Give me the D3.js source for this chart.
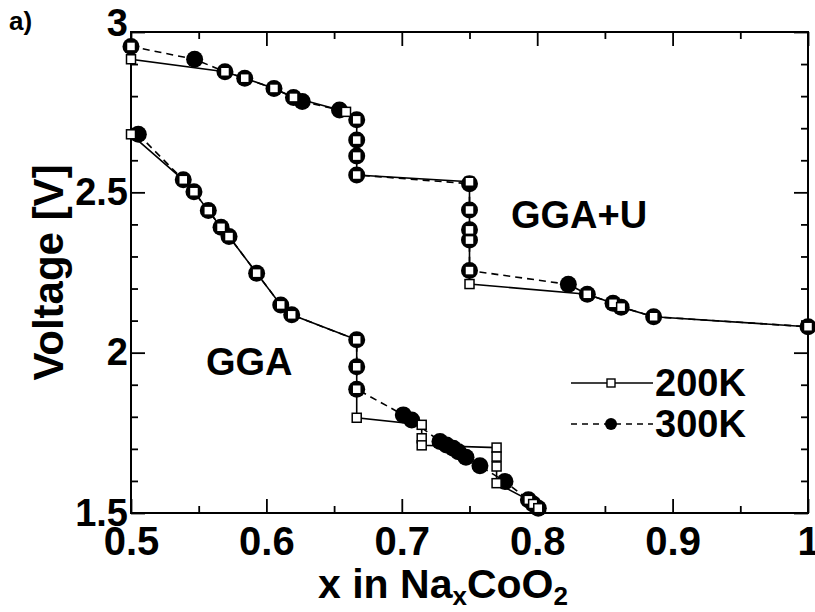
<!DOCTYPE html>
<html>
<head>
<meta charset="utf-8">
<script src="https://cdn.jsdelivr.net/npm/d3@7"></script>
<style>
  html, body { margin: 0; padding: 0; background: #fff; }
  svg { display: block; }
  text { font-family: "Liberation Sans", Arial, Helvetica, sans-serif; font-weight: bold; fill: #000; }
</style>
</head>
<body>
<script>
// Axis ticks
const xMajorTicks = [0.5, 0.6, 0.7, 0.8, 0.9, 1.0];
const xTickLabels = ["0.5", "0.6", "0.7", "0.8", "0.9", "1"];
const xMinorTicks = [0.55, 0.65, 0.75, 0.85, 0.95];
const yMajorTicks = [1.5, 2.0, 2.5, 3.0];
const yTickLabels = ["1.5", "2", "2.5", "3"];
const yMinorTicks = [1.6, 1.7, 1.8, 1.9, 2.1, 2.2, 2.3, 2.4, 2.6, 2.7, 2.8, 2.9];

// GGA+U voltage profile, [x, V]
const ggaU200K = [
  [0.5, 2.955], [0.5, 2.915], [0.5694, 2.876], [0.584, 2.856], [0.6056, 2.824],
  [0.620, 2.796], [0.6588, 2.751], [0.6667, 2.726], [0.6667, 2.663], [0.6667, 2.613],
  [0.6667, 2.554], [0.75, 2.533], [0.75, 2.445], [0.75, 2.383], [0.75, 2.351],
  [0.75, 2.256], [0.75, 2.214], [0.837, 2.182], [0.856, 2.154], [0.862, 2.142],
  [0.886, 2.112], [1.0, 2.081]
];
const ggaU300K = [
  [0.5, 2.955], [0.547, 2.915], [0.5694, 2.876], [0.584, 2.856], [0.6056, 2.824],
  [0.620, 2.796], [0.6265, 2.783], [0.654, 2.757], [0.6667, 2.726], [0.6667, 2.663],
  [0.6667, 2.613], [0.6667, 2.554], [0.75, 2.527], [0.75, 2.445], [0.75, 2.383],
  [0.75, 2.351], [0.75, 2.256], [0.823, 2.213], [0.837, 2.182], [0.856, 2.154],
  [0.862, 2.142], [0.886, 2.112], [1.0, 2.081]
];

// GGA voltage profile, [x, V]
const gga200K = [
  [0.5, 2.681], [0.5386, 2.539], [0.5465, 2.502], [0.5571, 2.443], [0.5665, 2.391],
  [0.5724, 2.362], [0.5928, 2.248], [0.6106, 2.149], [0.6187, 2.118], [0.6667, 2.040],
  [0.6667, 1.956], [0.6667, 1.886], [0.6667, 1.797], [0.7147, 1.775], [0.7147, 1.733],
  [0.7147, 1.711], [0.77, 1.704], [0.77, 1.676], [0.77, 1.645], [0.77, 1.593],
  [0.7935, 1.541], [0.797, 1.528], [0.8008, 1.515]
];
const gga300K = [
  [0.5054, 2.681], [0.5386, 2.539], [0.5465, 2.502], [0.5571, 2.443], [0.5665, 2.391],
  [0.5724, 2.362], [0.5928, 2.248], [0.6106, 2.149], [0.6187, 2.118], [0.6667, 2.040],
  [0.6667, 1.956], [0.6667, 1.886], [0.7011, 1.806], [0.7073, 1.790], [0.7282, 1.723],
  [0.733, 1.712], [0.738, 1.702], [0.7418, 1.691], [0.7474, 1.674], [0.7577, 1.647],
  [0.7762, 1.598], [0.7935, 1.541], [0.797, 1.528], [0.8008, 1.515]
];

const legendLabels = ["200K", "300K"];

const W = 815, H = 612;
const plot = { left: 131, right: 808, top: 32, bottom: 513 };

const svg = d3.select("body").append("svg")
  .attr("width", W).attr("height", H);

const x = d3.scaleLinear().domain([0.5, 1.0]).range([plot.left, plot.right]);
const y = d3.scaleLinear().domain([1.5, 3.0]).range([plot.bottom, plot.top]);

// Inward ticks on all four sides
function drawAxis(gen, tx, ty, values, size, labels) {
  const g = svg.append("g").attr("transform", `translate(${tx},${ty})`)
    .call(gen.tickValues(values).tickSize(-size)
      .tickFormat(labels ? ((d, i) => labels[i]) : () => ""));
  g.select(".domain").remove();
  g.selectAll(".tick line").attr("stroke", "#000").attr("stroke-width", 1.8);
  return g;
}

const bx = drawAxis(d3.axisBottom(x).tickPadding(14), 0, plot.bottom, xMajorTicks, 14, xTickLabels);
bx.selectAll("text").style("font-size", "40px").attr("fill", "#000");
drawAxis(d3.axisBottom(x), 0, plot.bottom, xMinorTicks, 7);
drawAxis(d3.axisTop(x), 0, plot.top, xMajorTicks, 14);
drawAxis(d3.axisTop(x), 0, plot.top, xMinorTicks, 7);

const ly = drawAxis(d3.axisLeft(y).tickPadding(3), plot.left, 0, yMajorTicks, 14, yTickLabels);
ly.selectAll("text").style("font-size", "38px").attr("fill", "#000");
// the top label sits a little higher, against the figure's top edge
ly.selectAll(".tick").filter(d => d === 3.0).select("text").attr("dy", "0.1em");
drawAxis(d3.axisLeft(y), plot.left, 0, yMinorTicks, 7);
drawAxis(d3.axisRight(y), plot.right, 0, yMajorTicks, 14);
drawAxis(d3.axisRight(y), plot.right, 0, yMinorTicks, 7);

// Frame
svg.append("rect")
  .attr("x", plot.left).attr("y", plot.top)
  .attr("width", plot.right - plot.left).attr("height", plot.bottom - plot.top)
  .attr("fill", "none").attr("stroke", "#000").attr("stroke-width", 2);

const line = d3.line().x(d => x(d[0])).y(d => y(d[1]));

const series300 = [ggaU300K, gga300K];
const series200 = [ggaU200K, gga200K];

// Lines
series300.forEach(s => svg.append("path").attr("d", line(s))
  .attr("fill", "none").attr("stroke", "#000").attr("stroke-width", 1.6)
  .attr("stroke-dasharray", "7,5"));
series200.forEach(s => svg.append("path").attr("d", line(s))
  .attr("fill", "none").attr("stroke", "#000").attr("stroke-width", 1.6));

// 300K: filled circles, drawn beneath the squares
series300.forEach(s => svg.append("g").selectAll("circle").data(s).join("circle")
  .attr("cx", d => x(d[0])).attr("cy", d => y(d[1])).attr("r", 8.5)
  .attr("fill", "#000"));

// 200K: open squares
const sq = 9;
series200.forEach(s => svg.append("g").selectAll("rect").data(s).join("rect")
  .attr("x", d => x(d[0]) - sq / 2).attr("y", d => y(d[1]) - sq / 2)
  .attr("width", sq).attr("height", sq)
  .attr("fill", "#fff").attr("stroke", "#000").attr("stroke-width", 1.5));

// Curve labels
svg.append("text").attr("x", 511).attr("y", 228).style("font-size", "38px").text("GGA+U");
svg.append("text").attr("x", 206).attr("y", 375).style("font-size", "38px").text("GGA");

// Legend
const leg = svg.append("g");
const legRows = [
  { y: 383, dash: null, label: legendLabels[0], mark: "square" },
  { y: 424, dash: "6,5", label: legendLabels[1], mark: "circle" }
];
legRows.forEach(r => {
  leg.append("line").attr("x1", 571).attr("x2", 653).attr("y1", r.y).attr("y2", r.y)
    .attr("stroke", "#000").attr("stroke-width", 1.6)
    .attr("stroke-dasharray", r.dash);
  if (r.mark === "square") {
    leg.append("rect").attr("x", 611 - 4).attr("y", r.y - 4).attr("width", 8).attr("height", 8)
      .attr("fill", "#fff").attr("stroke", "#000").attr("stroke-width", 1.4);
  } else {
    leg.append("circle").attr("cx", 611).attr("cy", r.y).attr("r", 6).attr("fill", "#000");
  }
  leg.append("text").attr("x", 655).attr("y", r.y + 13).style("font-size", "38px").text(r.label);
});

// Panel tag
svg.append("text").attr("x", 9).attr("y", 30).style("font-size", "26px").text("a)");

// Axis titles
svg.append("text")
  .attr("transform", `translate(63,${(plot.top + plot.bottom) / 2}) rotate(-90)`)
  .attr("text-anchor", "middle").style("font-size", "42px").text("Voltage [V]");

const xt = svg.append("text").attr("x", 443).attr("y", 598)
  .attr("text-anchor", "middle").style("font-size", "41px");
xt.append("tspan").text("x in Na");
xt.append("tspan").attr("dy", 7).style("font-size", "26px").text("x");
xt.append("tspan").attr("dy", -7).text("CoO");
xt.append("tspan").attr("dy", 7).style("font-size", "26px").text("2");
</script>
</body>
</html>
